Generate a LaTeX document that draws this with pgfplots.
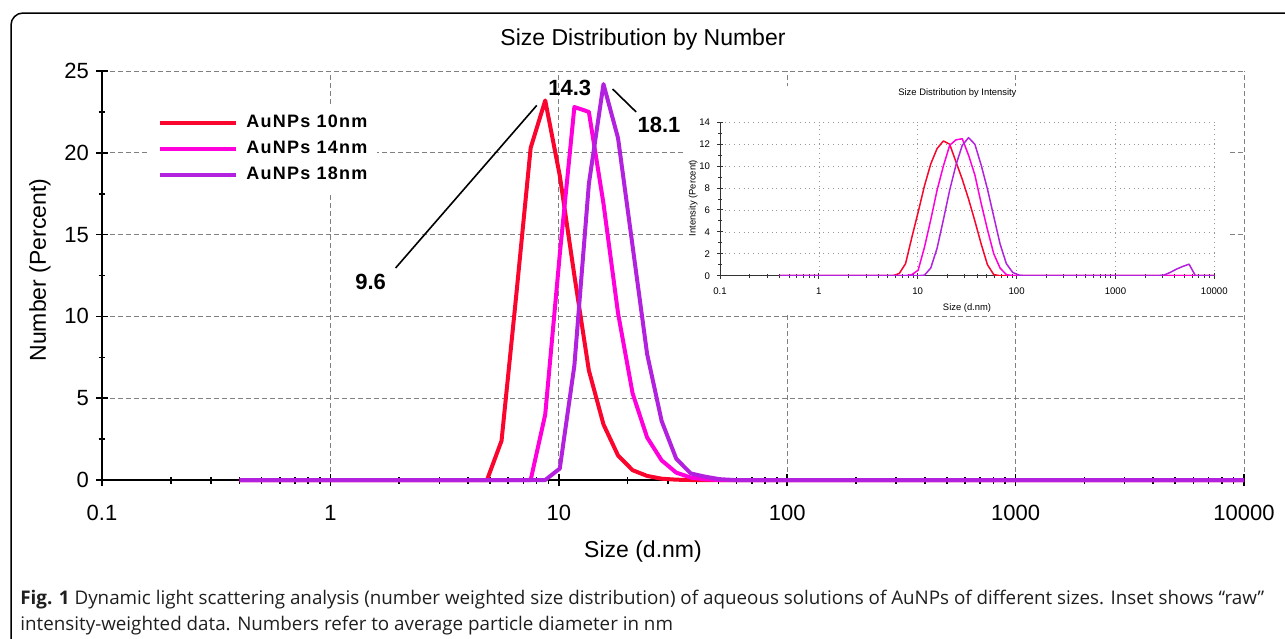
\documentclass[border=0pt]{standalone}
\usepackage{fontspec}
\setmainfont{Liberation Sans}
\newfontfamily\capfont{Open Sans}
\newfontfamily\legfont[LetterSpace=7]{Liberation Sans}
\usepackage{pgfplots}
\pgfplotsset{compat=1.18}

\definecolor{cred}{RGB}{250,5,45}
\definecolor{cmag}{RGB}{255,0,220}
\definecolor{cpur}{RGB}{178,34,222}

\pgfplotsset{
  logminors/.style={minor xtick={0.2,0.3,0.4,0.5,0.6,0.7,0.8,0.9,2,3,4,5,6,7,8,9,
    20,30,40,50,60,70,80,90,200,300,400,500,600,700,800,900,
    2000,3000,4000,5000,6000,7000,8000,9000}},
}

\begin{document}
\begin{tikzpicture}
% outer frame of the figure panel
\draw[line width=0.75pt, rounded corners=6pt] (5.5pt,-6.5pt) rectangle (665pt,-335pt);

\node[font=\fontsize{11.5}{13}\selectfont] at (321.5pt,-20pt) {Size Distribution by Number};
\node[font=\fontsize{11.5}{13}\selectfont, rotate=90] at (20pt,-135pt) {Number (Percent)};
\node[font=\fontsize{11.5}{13}\selectfont] at (321.5pt,-276pt) {Size (d.nm)};

\begin{axis}[at={(51pt,-240pt)}, anchor=south west, scale only axis,
  width=571pt, height=204.5pt,
  xmode=log, xmin=0.1, xmax=10000, ymin=0, ymax=25,
  axis lines=left, axis line style={line width=0.9pt,-},
  xtick={0.1,1,10,100,1000,10000}, xticklabels={0.1,1,10,100,1000,10000},
  logminors,
  ytick={0,5,10,15,20,25}, minor ytick={2.5,7.5,12.5,17.5,22.5},
  tick align=center, major tick length=6pt, minor tick length=3.5pt,
  every tick/.style={black, line width=0.8pt},
  grid=major, major grid style={gray, line width=0.45pt, dash pattern=on 2.5pt off 1.5pt},
  /pgf/number format/assume math mode=true,
  tick label style={font=\fontsize{11}{13}\selectfont},
  xticklabel style={yshift=-6pt},
  clip=false,
  legend style={at={(axis description cs:0.042,0.918)}, anchor=north west,
    draw=none, fill=white, inner sep=4pt, row sep=3.3pt,
    font=\legfont\bfseries\fontsize{9}{10}\selectfont, nodes={inner sep=1pt}},
  legend cell align=left,
  legend image code/.code={\draw[#1] (0pt,0pt) -- (38pt,0pt); \path (41pt,0pt);},
  every axis plot/.append style={line width=2pt, line join=round},
]
\addplot[cred] coordinates {(0.4,0)(4.849,0)(5.615,2.4)(6.503,11.2)(7.531,20.3)(8.721,23.2)
  (10.10,18.6)(11.70,12.5)(13.54,6.7)(15.69,3.4)(18.17,1.5)(21.04,0.6)(24.36,0.25)
  (28.21,0.08)(32.67,0.02)(37.84,0)(10000,0)};
\addlegendentry{AuNPs 10nm}
\addplot[cmag] coordinates {(0.4,0)(7.531,0)(8.721,4.0)(10.10,13.8)(11.70,22.8)(13.54,22.5)
  (15.69,16.9)(18.17,10.2)(21.04,5.3)(24.36,2.6)(28.21,1.2)(32.67,0.45)(37.84,0.15)
  (43.82,0.04)(50.75,0)(10000,0)};
\addlegendentry{AuNPs 14nm}
\addplot[cpur] coordinates {(0.4,0)(8.721,0)(10.10,0.7)(11.70,7.0)(13.54,18.1)(15.69,24.2)
  (18.17,20.9)(21.04,14.3)(24.36,7.7)(28.21,3.6)(32.67,1.3)(37.84,0.4)(43.82,0.2)
  (50.75,0.05)(58.77,0)(10000,0)};
\addlegendentry{AuNPs 18nm}
% peak annotations
\draw[line width=0.8pt] (axis cs:1.93,12.96) -- (axis cs:8.01,22.9);
\draw[line width=0.8pt] (axis cs:17.2,23.9) -- (axis cs:21.8,22.5);
\node[font=\bfseries\fontsize{11}{13}\selectfont] at (axis cs:1.50,12.1) {9.6};
\node[font=\bfseries\fontsize{11}{13}\selectfont] at (axis cs:11.17,23.96) {14.3};
\node[font=\bfseries\fontsize{11}{13}\selectfont] at (axis cs:27.45,21.7) {18.1};
\end{axis}

% inset
\fill[white] (343pt,-43pt) rectangle (614.5pt,-157.5pt);
\node[font=\fontsize{4.7}{5.5}\selectfont] at (478.7pt,-46.3pt) {Size Distribution by Intensity};
\node[font=\fontsize{4.7}{5.5}\selectfont, rotate=90] at (346.6pt,-99pt) {Intensity (Percent)};
\node[font=\fontsize{4.7}{5.5}\selectfont] at (483.5pt,-154pt) {Size (d.nm)};
\begin{axis}[at={(360pt,-137.85pt)}, anchor=south west, scale only axis,
  width=247.15pt, height=76.7pt,
  xmode=log, xmin=0.1, xmax=10000, ymin=0, ymax=14,
  axis lines=left, axis line style={line width=0.5pt, black!80, -},
  xtick={0.1,1,10,100,1000,10000}, xticklabels={0.1,1,10,100,1000,10000},
  logminors,
  ytick={0,2,4,6,8,10,12,14}, minor ytick={1,3,5,7,9,11,13},
  tick align=center, major tick length=3pt, minor tick length=2pt,
  every tick/.style={black!80, line width=0.5pt},
  grid=major, major grid style={gray!80, line width=0.35pt, dotted},
  /pgf/number format/assume math mode=true,
  tick label style={font=\fontsize{4.8}{5.5}\selectfont},
  xticklabel style={yshift=-1.2pt},
  every axis plot/.append style={line width=0.75pt, line join=round},
]
\addplot[cred] coordinates {(0.4,0)(5.615,0)(6.503,0.2)(7.531,1.1)(8.721,3.5)(10.10,5.8)
  (11.70,8.2)(13.54,10.2)(15.69,11.6)(18.17,12.3)(21.04,12.0)(24.36,10.4)(28.21,8.8)
  (32.67,7.0)(37.84,5.0)(43.82,2.9)(50.75,1.0)(58.77,0.1)(68.06,0)(10000,0)};
\addplot[cmag] coordinates {(0.4,0)(7.531,0)(8.721,0.1)(10.10,0.5)(11.70,2.6)(13.54,5.1)
  (15.69,7.8)(18.17,10.0)(21.04,11.9)(24.36,12.4)(28.21,12.5)(32.67,11.0)(37.84,9.2)
  (43.82,6.6)(50.75,4.2)(58.77,2.0)(68.06,0.7)(78.82,0.1)(91.28,0)(10000,0)};
\addplot[cpur] coordinates {(0.4,0)(10.10,0)(11.70,0.05)(13.54,0.7)(15.69,2.5)(18.17,5.1)
  (21.04,7.8)(24.36,10.1)(28.21,11.9)(32.67,12.6)(37.84,12.0)(43.82,10.1)(50.75,7.9)
  (58.77,5.4)(68.06,2.9)(78.82,1.1)(91.28,0.3)(105.7,0.05)(122.4,0)(2669,0)(3091,0.05)
  (3580,0.3)(4145,0.6)(4801,0.85)(5560,1.05)(6439,0)(10000,0)};
\end{axis}

% caption
\node[anchor=base west, align=left, inner sep=0pt, text=black!88,
  font=\capfont\fontsize{9.4}{13}\selectfont] at (10pt,-315pt)
  {\textbf{Fig. 1} Dynamic light scattering analysis (number weighted size distribution) of aqueous solutions of AuNPs of different sizes. Inset shows “raw”\\
   intensity-weighted data. Numbers refer to average particle diameter in nm};

\pgfresetboundingbox
\useasboundingbox (0pt,0pt) rectangle (642.5pt,-319pt);
\end{tikzpicture}
\end{document}
